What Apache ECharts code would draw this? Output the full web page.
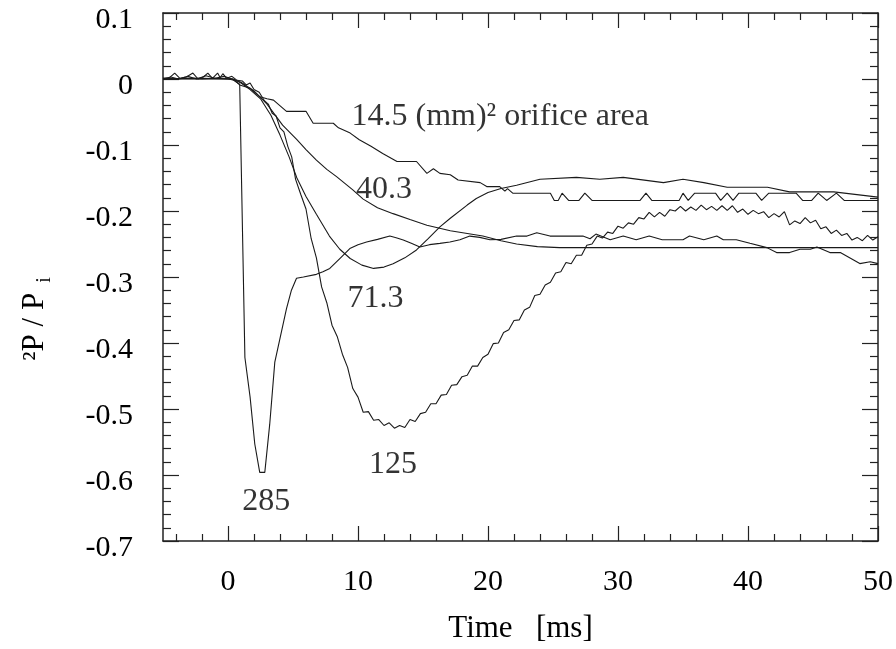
<!DOCTYPE html>
<html>
<head>
<meta charset="utf-8">
<script src="https://cdn.jsdelivr.net/npm/echarts@6/dist/echarts.min.js"></script>
<style>
  html, body { margin: 0; padding: 0; background: #fff; }
  #chart { width: 896px; height: 649px; }
</style>
</head>
<body>
<div id="chart"></div>
<script>
// pressure traces: [time ms, dP/Pi]
const curve145 = [
  [-5, 0.001], [-4, 0.0], [-3, 0.001], [-2, 0.0], [-1, 0.001], [0, 0.0], [0.5, -0.002], [0.9, -0.009],
  [1.7, -0.014], [2.45, -0.027], [3.0, -0.030], [3.5, -0.032], [4.5, -0.049], [6.0, -0.049], [6.55, -0.067],
  [8.1, -0.067], [8.5, -0.074], [9.4, -0.082], [10.1, -0.092], [11.0, -0.102], [11.9, -0.113], [13.0, -0.125],
  [14.5, -0.125], [15.3, -0.143], [15.8, -0.136], [16.3, -0.143], [17.1, -0.145], [17.7, -0.153], [19.4, -0.157],
  [19.9, -0.163], [20.9, -0.163], [21.3, -0.170], [21.5, -0.166], [21.9, -0.173], [24.8, -0.173], [25.1, -0.184],
  [25.4, -0.184], [25.7, -0.173], [26.2, -0.184], [27.0, -0.184], [27.45, -0.173], [28.0, -0.184], [31.7, -0.184],
  [32.15, -0.173], [32.6, -0.184], [34.7, -0.184], [35.0, -0.173], [35.4, -0.184], [35.9, -0.173], [37.5, -0.173],
  [37.9, -0.184], [38.4, -0.173], [38.85, -0.184], [39.3, -0.173], [40.6, -0.173], [41.05, -0.184], [41.6, -0.173],
  [43.7, -0.173], [44.2, -0.184], [44.9, -0.184], [45.4, -0.173], [46.05, -0.184], [46.8, -0.173], [47.4, -0.184],
  [50, -0.184]
];

const curve403 = [
  [-5, 0.0], [-2.5, 0.001], [0.3, 0.0], [1.0, -0.005], [2.0, -0.018], [3.0, -0.038], [4.2, -0.070], [5.3, -0.092],
  [6.0, -0.107], [6.8, -0.123], [7.6, -0.137], [8.35, -0.148], [9.6, -0.168], [10.4, -0.182], [11.5, -0.195],
  [12.7, -0.204], [14.0, -0.213], [15.3, -0.2215], [17.1, -0.230], [19.6, -0.238], [21.0, -0.245], [22.2, -0.250],
  [23.8, -0.254], [25.5, -0.2555], [50, -0.2555]
];

const curve713 = [
  [-5, 0.0], [-2, 0.001], [0.4, 0.0], [1.0, -0.006], [1.7, -0.016], [2.5, -0.030], [3.3, -0.055], [4.0, -0.085],
  [4.7, -0.118], [5.3, -0.150], [6.0, -0.178], [6.8, -0.205], [7.8, -0.238], [8.6, -0.258], [9.4, -0.272],
  [10.3, -0.282], [11.2, -0.287], [12.0, -0.285], [12.7, -0.280], [13.6, -0.271], [14.5, -0.259], [15.4, -0.242],
  [16.3, -0.224], [17.1, -0.211], [18.4, -0.191], [19.1, -0.181], [20.0, -0.172], [21.0, -0.166], [22.2, -0.161],
  [24.0, -0.152], [26.8, -0.149], [28.6, -0.152], [30.4, -0.149], [33.5, -0.157], [35.0, -0.152], [36.6, -0.157],
  [38.4, -0.164], [41.5, -0.164], [43.2, -0.171], [46.6, -0.171], [50, -0.179]
];

const curve125 = [
  [-5, 0.001], [-4.5, 0.002], [-4.1, 0.009], [-3.7, 0.001], [-3.2, 0.003], [-2.7, 0.009], [-2.3, 0.0],
  [-1.9, 0.003], [-1.55, 0.009], [-1.2, 0.001], [-0.8, 0.009], [-0.6, 0.002], [-0.4, 0.008], [-0.1, 0.001],
  [0.3, 0.004], [0.7, -0.002], [1.1, -0.003], [1.4, -0.009], [1.7, -0.006], [2.0, -0.016], [2.4, -0.020],
  [2.8, -0.033], [3.1, -0.038], [3.4, -0.052], [3.7, -0.056], [4.0, -0.074], [4.3, -0.080], [4.6, -0.102],
  [4.9, -0.118], [5.2, -0.152], [5.6, -0.175], [6.0, -0.197], [6.4, -0.242], [6.8, -0.271], [7.2, -0.315],
  [7.6, -0.339], [8.0, -0.373], [8.4, -0.390], [8.8, -0.417], [9.2, -0.437], [9.6, -0.469], [10.0, -0.482],
  [10.4, -0.505], [10.8, -0.504], [11.2, -0.517], [11.6, -0.516], [12.0, -0.525], [12.4, -0.521], [12.8, -0.529],
  [13.2, -0.525], [13.6, -0.528], [14.0, -0.516], [14.4, -0.519], [14.8, -0.507], [15.2, -0.505], [15.6, -0.492],
  [16.0, -0.492], [16.4, -0.479], [16.8, -0.478], [17.2, -0.464], [17.6, -0.463], [18.0, -0.451], [18.4, -0.449],
  [18.8, -0.435], [19.2, -0.435], [19.6, -0.422], [20.0, -0.417], [20.4, -0.401], [20.8, -0.400], [21.2, -0.384],
  [21.6, -0.380], [22.0, -0.366], [22.4, -0.365], [22.8, -0.350], [23.2, -0.346], [23.6, -0.328], [24.0, -0.326],
  [24.4, -0.312], [24.8, -0.308], [25.2, -0.294], [25.6, -0.292], [26.0, -0.278], [26.4, -0.280], [26.8, -0.267],
  [27.2, -0.267], [27.6, -0.252], [28.0, -0.250], [28.4, -0.238], [28.8, -0.241], [29.2, -0.232], [29.6, -0.234],
  [30.0, -0.223], [30.4, -0.226], [30.8, -0.218], [31.2, -0.220], [31.6, -0.210], [32.0, -0.212], [32.4, -0.202],
  [32.8, -0.209], [33.2, -0.202], [33.6, -0.208], [34.0, -0.198], [34.4, -0.200], [34.8, -0.193], [35.2, -0.200],
  [35.6, -0.194], [36.0, -0.199], [36.4, -0.191], [36.8, -0.198], [37.2, -0.193], [37.6, -0.199], [38.0, -0.192],
  [38.4, -0.199], [38.8, -0.192], [39.2, -0.202], [39.6, -0.197], [40.0, -0.205], [40.4, -0.199], [40.8, -0.204],
  [41.2, -0.201], [41.6, -0.210], [42.0, -0.204], [42.4, -0.209], [42.8, -0.201], [43.2, -0.221], [43.6, -0.215],
  [44.0, -0.219], [44.4, -0.210], [44.8, -0.218], [45.2, -0.214], [45.6, -0.227], [46.0, -0.224], [46.4, -0.234],
  [46.8, -0.229], [47.2, -0.237], [47.6, -0.234], [48.0, -0.244], [48.4, -0.240], [48.8, -0.245], [49.2, -0.237],
  [49.6, -0.244], [50.0, -0.239]
];

const curve285 = [
  [-5, 0.0], [-4.4, 0.003], [-3.8, 0.0], [-3.1, 0.004], [-2.4, 0.0], [-1.7, 0.005], [-1.0, 0.001], [-0.3, 0.004],
  [0.3, 0.0], [0.9, -0.008], [1.3, -0.422], [1.7, -0.482], [2.06, -0.553], [2.44, -0.596], [2.83, -0.596],
  [3.21, -0.523], [3.6, -0.429], [4.5, -0.348], [4.88, -0.320], [5.27, -0.302], [5.8, -0.300], [6.8, -0.296],
  [7.3, -0.292], [7.83, -0.287], [8.6, -0.272], [9.37, -0.257], [10.0, -0.251], [10.66, -0.247], [11.5, -0.243],
  [12.45, -0.238], [13.0, -0.241], [13.48, -0.244], [14.1, -0.249], [14.76, -0.2545], [15.5, -0.251], [16.3, -0.249],
  [17.07, -0.247], [17.84, -0.2435], [18.6, -0.238], [19.37, -0.240], [20.15, -0.2435], [21.0, -0.243], [22.2, -0.238],
  [23.0, -0.238], [23.75, -0.233], [24.77, -0.238], [27.3, -0.238], [27.85, -0.242], [28.3, -0.235], [29.4, -0.2435],
  [30.4, -0.238], [31.4, -0.2435], [32.4, -0.238], [33.4, -0.2435], [35.0, -0.2435], [35.5, -0.238], [36.6, -0.2435],
  [37.6, -0.238], [38.1, -0.2435], [39.1, -0.2435], [40.15, -0.249], [41.45, -0.2555], [42.2, -0.263], [43.2, -0.263],
  [44.0, -0.258], [44.8, -0.258], [45.3, -0.2545], [46.3, -0.263], [47.1, -0.263], [48.6, -0.2797], [49.4, -0.277],
  [50, -0.2797]
];

// axis ticks
const xMajorTicks = [0, 10, 20, 30, 40, 50];
const xMinorTicks = [-4, -2, 2, 4, 6, 8, 12, 14, 16, 18, 22, 24, 26, 28, 32, 34, 36, 38, 42, 44, 46, 48];

// curve annotations (left edge of text)
const noteTime = [9.5, 9.85, 9.2, 10.85, 1.1];
const noteValue = [-0.0575, -0.168, -0.3325, -0.5845, -0.6405];
const noteText = ['14.5 (mm)² orifice area', '40.3', '71.3', '125', '285'];

const FONT = 'Liberation Serif';
const FS = 30;
const frameColor = '#222';

const chart = echarts.init(document.getElementById('chart'));

const gridBox = { left: 163, right: 18, top: 13, bottom: 108, outerBoundsMode: 'none', containLabel: false };

const xBase = {
  type: 'value',
  min: -5,
  max: 50,
  splitLine: { show: false },
  axisLine: { onZero: false, lineStyle: { color: frameColor, width: 1.5 } }
};

const yBase = {
  type: 'value',
  min: -0.7,
  max: 0.1,
  interval: 0.1,
  splitLine: { show: false },
  axisLine: { onZero: false, lineStyle: { color: frameColor, width: 1.5 } },
  axisTick: { inside: true, length: 16, lineStyle: { color: frameColor, width: 1.2 } },
  minorTick: { show: true, splitNumber: 5, length: 8, lineStyle: { color: frameColor, width: 1.2 } }
};

const lineSeries = (name, data) => ({
  name,
  type: 'line',
  data,
  xAxisIndex: 0,
  yAxisIndex: 0,
  showSymbol: false,
  symbol: 'none',
  lineStyle: { color: '#1a1a1a', width: 1.1 }
});

const option = {
  animation: false,
  backgroundColor: '#fff',
  grid: [
    Object.assign({}, gridBox),
    Object.assign({}, gridBox)
  ],
  xAxis: [
    Object.assign({}, xBase, {
      gridIndex: 0,
      position: 'bottom',
      axisTick: { inside: true, length: 15, customValues: xMajorTicks, lineStyle: { color: frameColor, width: 1.2 } },
      axisLabel: { customValues: xMajorTicks, margin: 26, color: '#000', fontFamily: FONT, fontSize: FS },
      name: 'Time   [ms]',
      nameLocation: 'middle',
      nameGap: 72,
      nameTextStyle: { color: '#000', fontFamily: FONT, fontSize: 31 }
    }),
    Object.assign({}, xBase, {
      gridIndex: 0,
      position: 'top',
      axisTick: { inside: true, length: 15, customValues: xMajorTicks, lineStyle: { color: frameColor, width: 1.2 } },
      axisLabel: { show: false }
    }),
    Object.assign({}, xBase, {
      gridIndex: 1,
      position: 'bottom',
      axisLine: { show: false, onZero: false },
      axisTick: { inside: true, length: 7, customValues: xMinorTicks, lineStyle: { color: frameColor, width: 1.2 } },
      axisLabel: { show: false }
    }),
    Object.assign({}, xBase, {
      gridIndex: 1,
      position: 'top',
      axisLine: { show: false, onZero: false },
      axisTick: { inside: true, length: 7, customValues: xMinorTicks, lineStyle: { color: frameColor, width: 1.2 } },
      axisLabel: { show: false }
    })
  ],
  yAxis: [
    Object.assign({}, yBase, {
      gridIndex: 0,
      position: 'left',
      axisLabel: {
        margin: 30,
        formatter: v => '{v|' + String(Math.round(v * 10) / 10) + '}',
        rich: {
          v: { color: '#000', fontFamily: FONT, fontSize: FS, lineHeight: 30, padding: [14, 0, 0, 0] }
        }
      },
      name: '{a|²P / P}{s|  i}',
      nameLocation: 'middle',
      nameRotate: 90,
      nameGap: 108,
      nameTextStyle: {
        color: '#000', fontFamily: FONT, fontSize: 31,
        padding: [0, 84, 0, 0],
        rich: {
          a: { fontFamily: FONT, fontSize: 31, color: '#000' },
          s: { fontFamily: FONT, fontSize: 20, color: '#000', padding: [20, 0, 0, 0] }
        }
      }
    }),
    Object.assign({}, yBase, {
      gridIndex: 0,
      position: 'right',
      axisLabel: { show: false }
    }),
    {
      type: 'value',
      gridIndex: 1,
      min: -0.7,
      max: 0.1,
      show: false
    }
  ],
  series: [
    lineSeries('14.5', curve145),
    lineSeries('40.3', curve403),
    lineSeries('71.3', curve713),
    lineSeries('125', curve125),
    lineSeries('285', curve285),
    {
      name: 'notes',
      type: 'scatter',
      xAxisIndex: 0,
      yAxisIndex: 0,
      symbolSize: 0,
      data: noteTime.map((t, i) => [t, noteValue[i]]),
      label: {
        show: true,
        position: 'right',
        distance: 0,
        color: '#000',
        fontFamily: FONT,
        fontSize: 32,
        formatter: p => noteText[p.dataIndex]
      }
    }
  ]
};

chart.setOption(option);
</script>
</body>
</html>
